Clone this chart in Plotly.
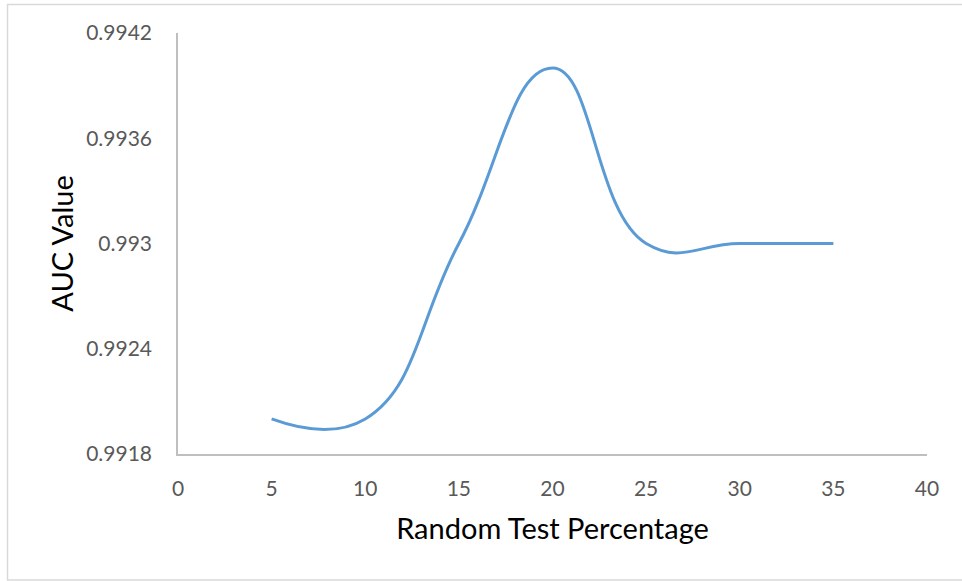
import plotly.graph_objects as go

test_pct = [5, 10, 15, 20, 25, 30, 35]
auc_values = [0.9920, 0.9920, 0.9930, 0.9940, 0.9930, 0.9930, 0.9930]
y_tick_vals = [0.9918, 0.9924, 0.9930, 0.9936, 0.9942]
y_tick_text = ["0.9918", "0.9924", "0.993", "0.9936", "0.9942"]
x_tick_vals = [0, 5, 10, 15, 20, 25, 30, 35, 40]

W, H = 962, 581
L, R, T, B = 178, 35, 33, 127
pw, ph = W - L - R, H - T - B

def px(xp):
    return (xp - L) / pw

def py(yp):
    return (H - B - yp) / ph

FONT = "Lato, 'Open Sans', sans-serif"

fig = go.Figure()
fig.add_trace(go.Scatter(
    x=test_pct, y=auc_values, mode="lines",
    line=dict(color="#5B9BD5", width=3, shape="spline", smoothing=1.3),
    showlegend=False, hoverinfo="skip",
))

fig.update_layout(
    width=W, height=H,
    margin=dict(l=L, r=R, t=T, b=B),
    paper_bgcolor="white", plot_bgcolor="white",
    font=dict(family=FONT),
    xaxis=dict(
        range=[0, 40], tickvals=x_tick_vals, showgrid=False, zeroline=False,
        showline=True, linecolor="#BFBFBF", linewidth=1.5,
        ticks="outside", ticklen=15, tickcolor="rgba(0,0,0,0)",
        tickfont=dict(size=21, color="#595959", family=FONT),
        title=dict(text="Random Test Percentage", font=dict(size=29, color="#000000", family=FONT), standoff=20),
    ),
    yaxis=dict(
        range=[0.9918, 0.9942], tickvals=y_tick_vals, ticktext=y_tick_text,
        showgrid=False, zeroline=False,
        showline=True, linecolor="#BFBFBF", linewidth=1.5,
        ticks="outside", ticklen=20, tickcolor="rgba(0,0,0,0)",
        tickfont=dict(size=21, color="#595959", family=FONT),
        title=dict(text="AUC Value", font=dict(size=29, color="#000000", family=FONT), standoff=4),
    ),
    shapes=[
        dict(type="rect", xref="paper", yref="paper",
             x0=px(7.5), x1=px(965), y0=py(4.5), y1=py(580),
             line=dict(color="#D9D9D9", width=1.5), fillcolor="rgba(0,0,0,0)", layer="below"),
    ],
)

fig.write_html("out.html")
